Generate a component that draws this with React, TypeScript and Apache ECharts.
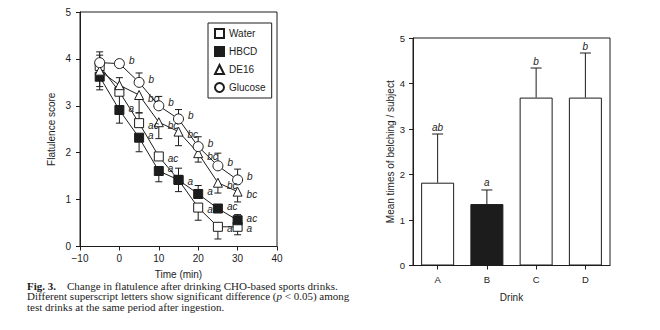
import React, { useEffect, useRef } from "react";
import * as echarts from "echarts";

// ---- Left chart: flatulence score over time ----
const times = [-5, 0, 5, 10, 15, 20, 25, 30];
const water = [3.85, 3.3, 2.63, 1.92, 1.42, 0.83, 0.42, 0.42];
const hbcd = [3.62, 2.91, 2.32, 1.61, 1.42, 1.12, 0.81, 0.56];
const de16 = [3.75, 3.44, 3.23, 2.65, 2.45, 1.99, 1.36, 1.17];
const glucose = [3.92, 3.9, 3.5, 3.0, 2.72, 2.13, 1.72, 1.42];

// error bar ends (null = not drawn)
const waterHi = [4.08, null, 2.85, null, 1.67, null, null, null];
const waterLo = [null, 3.0, null, null, 1.17, 0.56, 0.16, 0.25];
const hbcdHi = [null, null, null, null, null, 1.3, null, 0.68];
const hbcdLo = [3.34, 2.63, 2.02, 1.38, null, null, null, null];
const de16Hi = [null, 3.6, null, null, null, null, null, null];
const de16Lo = [3.41, null, 2.85, 2.3, 2.15, 1.8, 1.14, 0.95];
const glucoseHi = [4.15, null, 3.7, 3.2, 2.92, 2.34, 1.99, 1.65];
const glucoseLo = [null, null, null, null, null, null, null, null];

const waterSig = ["", "", "ac", "ac", "a", "a", "a", "a"];
const hbcdSig = ["", "a", "a", "a", "", "a", "ac", "ac"];
const de16Sig = ["", "", "bc", "bc", "bc", "bc", "bc", "bc"];
const glucoseSig = ["", "b", "b", "b", "b", "b", "b", "b"];

const timeTicks = [-10, 0, 10, 20, 30, 40];
const scoreTicks = [0, 1, 2, 3, 4, 5];

// ---- Right chart: belching ----
const drinks = ["A", "B", "C", "D"];
const belchMean = [1.82, 1.35, 3.69, 3.69];
const belchHi = [2.89, 1.66, 4.34, 4.67];
const belchSig = ["ab", "a", "b", "b"];
const belchTicks = [0, 1, 2, 3, 4, 5];

const INK = "#1c1c1c";
const SANS = "Liberation Sans, Arial, sans-serif";
const SERIF = "Liberation Serif, Times New Roman, serif";

function errData(vals: number[], hi: (number | null)[], lo: (number | null)[]) {
  const out: number[][] = [];
  vals.forEach((v, i) => {
    if (hi[i] != null) out.push([times[i], v, hi[i] as number]);
    if (lo[i] != null) out.push([times[i], v, lo[i] as number]);
  });
  return out;
}

function errRender(cap: number, labels?: string[]) {
  return (params: any, api: any) => {
    const x = api.value(0);
    const p0 = api.coord([x, api.value(1)]);
    const p1 = api.coord([x, api.value(2)]);
    const children: any[] = [
      { type: "line", shape: { x1: p0[0], y1: p0[1], x2: p1[0], y2: p1[1] }, style: { stroke: INK, lineWidth: 1 } },
      { type: "line", shape: { x1: p1[0] - cap / 2, y1: p1[1], x2: p1[0] + cap / 2, y2: p1[1] }, style: { stroke: INK, lineWidth: 1 } },
    ];
    if (labels) {
      children.push({
        type: "text",
        x: p1[0],
        y: p1[1] - 2,
        style: {
          text: labels[params.dataIndex],
          fill: INK,
          font: "italic 10px " + SANS,
          align: "center",
          verticalAlign: "bottom",
        },
      });
    }
    return { type: "group", children };
  };
}

function lineSeries(name: string, vals: number[], sig: string[], symbol: string, fill: string, size: number, dy: number) {
  return {
    type: "line",
    name,
    xAxisIndex: 0,
    yAxisIndex: 0,
    symbol,
    symbolSize: size,
    z: 5,
    lineStyle: { color: INK, width: 1 },
    itemStyle: { color: fill, borderColor: INK, borderWidth: 1 },
    data: vals.map((v, i) => ({
      value: [times[i], v],
      label: {
        show: sig[i] !== "",
        formatter: sig[i],
        position: "right",
        distance: 4,
        offset: [0, dy],
        fontStyle: "italic",
        fontSize: 10,
        fontFamily: SANS,
        color: INK,
      },
    })),
  };
}

export default function App() {
  const ref = useRef<HTMLDivElement>(null);
  useEffect(() => {
    const chart = echarts.init(ref.current!, null, { renderer: "svg" });
    const axisCommon = {
      axisLine: { show: true, onZero: false, lineStyle: { color: INK, width: 1 } },
      axisTick: { show: true, inside: false, length: 4, lineStyle: { color: INK } },
      splitLine: { show: false },
      axisLabel: { color: INK, fontSize: 9.5, fontFamily: SANS },
      nameTextStyle: { color: INK, fontSize: 10, fontFamily: SANS },
    };
    chart.setOption({
      animation: false,
      backgroundColor: "#ffffff",
      grid: [
        { left: 80, top: 12, width: 197, height: 234.5, show: true, borderColor: INK, borderWidth: 1, backgroundColor: "transparent" },
        { left: 413, top: 38, width: 197, height: 227.5, show: true, borderColor: INK, borderWidth: 1, backgroundColor: "transparent" },
      ],
      xAxis: [
        {
          ...axisCommon,
          gridIndex: 0,
          type: "value",
          min: timeTicks[0],
          max: timeTicks[timeTicks.length - 1],
          interval: 10,
          name: "Time (min)",
          nameLocation: "middle",
          nameGap: 23,
          axisLabel: {
            ...axisCommon.axisLabel,
            fontSize: 10,
            margin: 7,
            formatter: (v: number) => String(v).replace("-", "\u2212"),
          },
        },
        {
          ...axisCommon,
          gridIndex: 1,
          type: "category",
          data: drinks,
          axisTick: { ...axisCommon.axisTick, alignWithLabel: true },
          name: "Drink",
          nameLocation: "middle",
          nameGap: 27,
          axisLabel: { ...axisCommon.axisLabel, margin: 9 },
        },
      ],
      yAxis: [
        {
          ...axisCommon,
          gridIndex: 0,
          type: "value",
          min: scoreTicks[0],
          max: scoreTicks[scoreTicks.length - 1],
          interval: 1,
          name: "Flatulence score",
          nameLocation: "middle",
          nameGap: 24,
          axisLabel: { ...axisCommon.axisLabel, fontSize: 10, margin: 9 },
        },
        {
          ...axisCommon,
          gridIndex: 1,
          type: "value",
          min: belchTicks[0],
          max: belchTicks[belchTicks.length - 1],
          interval: 1,
          name: "Mean times of belching / subject",
          nameLocation: "middle",
          nameGap: 18,
          axisLabel: { ...axisCommon.axisLabel, margin: 8 },
        },
      ],
      legend: {
        orient: "vertical",
        left: 208,
        top: 23,
        itemWidth: 9,
        itemHeight: 9,
        itemGap: 7,
        padding: [5, 6, 5, 6],
        borderColor: INK,
        borderWidth: 1,
        backgroundColor: "#fff",
        textStyle: { color: INK, fontSize: 10, fontFamily: SANS },
        data: [
          { name: "Water", icon: "rect" },
          { name: "HBCD", icon: "rect" },
          { name: "DE16", icon: "triangle" },
          { name: "Glucose", icon: "circle" },
        ],
      },
      series: [
        { type: "custom", xAxisIndex: 0, yAxisIndex: 0, renderItem: errRender(7), data: errData(water, waterHi, waterLo), z: 3, silent: true },
        { type: "custom", xAxisIndex: 0, yAxisIndex: 0, renderItem: errRender(7), data: errData(hbcd, hbcdHi, hbcdLo), z: 3, silent: true },
        { type: "custom", xAxisIndex: 0, yAxisIndex: 0, renderItem: errRender(7), data: errData(de16, de16Hi, de16Lo), z: 3, silent: true },
        { type: "custom", xAxisIndex: 0, yAxisIndex: 0, renderItem: errRender(7), data: errData(glucose, glucoseHi, glucoseLo), z: 3, silent: true },
        lineSeries("Water", water, waterSig, "rect", "#ffffff", 9, 2),
        lineSeries("HBCD", hbcd, hbcdSig, "rect", INK, 9, -2),
        lineSeries("DE16", de16, de16Sig, "triangle", "#ffffff", 9, 3),
        lineSeries("Glucose", glucose, glucoseSig, "circle", "#ffffff", 10, -3),
        {
          type: "bar",
          xAxisIndex: 1,
          yAxisIndex: 1,
          barWidth: 33,
          data: belchMean.map((v, i) => ({
            value: v,
            itemStyle: { color: i === 1 ? INK : "#ffffff", borderColor: INK, borderWidth: 1 },
          })),
        },
        {
          type: "custom",
          xAxisIndex: 1,
          yAxisIndex: 1,
          renderItem: errRender(11, belchSig),
          data: belchMean.map((v, i) => [i, v, belchHi[i]]),
          encode: { x: 0, y: 2 },
          z: 3,
          silent: true,
        },
      ],
      graphic: [
        {
          type: "text",
          left: 27,
          top: 280,
          style: {
            rich: {
              b: { fontFamily: SERIF, fontWeight: "bold", fontSize: 11, fill: INK, lineHeight: 10.8 },
              n: { fontFamily: SERIF, fontSize: 11, fill: INK, lineHeight: 10.8 },
              i: { fontFamily: SERIF, fontSize: 11, fill: INK, fontStyle: "italic", lineHeight: 10.8 },
            },
            text:
              "{b|Fig. 3.}{n|    Change in flatulence after drinking CHO-based sports drinks.}\n" +
              "{n|Different superscript letters show significant difference (}{i|p}{n| < 0.05) among}\n" +
              "{n|test drinks at the same period after ingestion.}",
            lineHeight: 10.8,
          },
        },
      ],
    });
    return () => chart.dispose();
  }, []);
  return <div ref={ref} style={{ position: "fixed", left: 0, top: 0, width: 660, height: 330 }} />;
}
